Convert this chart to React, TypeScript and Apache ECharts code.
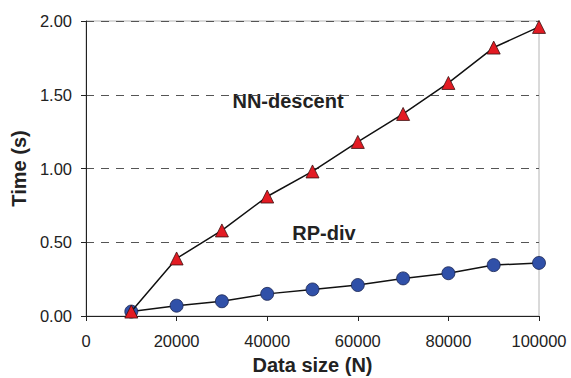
import React, { useEffect, useRef } from "react";
import * as echarts from "echarts";

const dataSizes = [10000, 20000, 30000, 40000, 50000, 60000, 70000, 80000, 90000, 100000];
const nnDescent = [0.03, 0.39, 0.58, 0.81, 0.98, 1.18, 1.37, 1.58, 1.82, 1.96];
const rpDiv = [0.03, 0.07, 0.1, 0.15, 0.18, 0.21, 0.255, 0.29, 0.345, 0.36];
const seriesLabels = ["NN-descent", "RP-div"];

const FONT = "'Liberation Sans', Arial, sans-serif";

export default function App() {
  const ref = useRef<HTMLDivElement>(null);
  useEffect(() => {
    if (!ref.current) return;
    const chart = echarts.init(ref.current, undefined, { renderer: "svg" });
    chart.setOption({
      animation: false,
      backgroundColor: "#ffffff",
      grid: {
        left: 86,
        right: 32,
        top: 21,
        bottom: 62,
        containLabel: false,
        outerBoundsMode: "none",
        show: true,
        borderColor: "#b4b4b4",
        borderWidth: 1,
        backgroundColor: "transparent",
      },
      xAxis: {
        type: "value",
        min: 0,
        max: 100000,
        interval: 20000,
        name: "Data size (N)",
        nameLocation: "middle",
        nameGap: 39,
        nameTextStyle: { fontFamily: FONT, fontWeight: "bold", fontSize: 20, color: "#222" },
        axisLine: { show: true, onZero: false, lineStyle: { color: "#222", width: 1 } },
        axisTick: { show: true, length: 5, inside: false, lineStyle: { color: "#222" } },
        axisLabel: {
          fontFamily: FONT,
          fontSize: 16.5,
          color: "#222",
          margin: 16,
          formatter: (v: number) => String(v),
        },
        splitLine: { show: false },
      },
      yAxis: {
        type: "value",
        min: 0,
        max: 2,
        interval: 0.5,
        name: "Time (s)",
        nameLocation: "middle",
        nameGap: 56,
        nameRotate: 90,
        nameTextStyle: { fontFamily: FONT, fontWeight: "bold", fontSize: 20, color: "#222" },
        axisLine: { show: true, lineStyle: { color: "#222", width: 1 } },
        axisTick: { show: true, length: 5, lineStyle: { color: "#222" } },
        axisLabel: {
          fontFamily: FONT,
          fontSize: 16.5,
          color: "#222",
          margin: 14,
          formatter: (v: number) => v.toFixed(2),
        },
        splitLine: {
          show: true,
          lineStyle: { color: "#555", type: [8, 7], width: 1 },
        },
      },
      series: [
        {
          name: seriesLabels[0],
          type: "line",
          data: dataSizes.map((x, i) => [x, nnDescent[i]]),
          symbol: "triangle",
          symbolSize: 13,
          lineStyle: { color: "#111", width: 1.5 },
          itemStyle: { color: "#e31b23", borderColor: "#3a1010", borderWidth: 0.8 },
          z: 3,
        },
        {
          name: seriesLabels[1],
          type: "line",
          data: dataSizes.map((x, i) => [x, rpDiv[i]]),
          symbol: "circle",
          symbolSize: 13,
          lineStyle: { color: "#111", width: 1.5 },
          itemStyle: { color: "#3050a8", borderColor: "#1a2550", borderWidth: 0.8 },
          z: 2,
        },
      ],
      graphic: [
        {
          type: "text",
          x: 288,
          y: 101,
          style: {
            text: seriesLabels[0],
            fontFamily: FONT,
            fontWeight: "bold",
            fontSize: 20,
            fill: "#222",
            align: "center",
            verticalAlign: "middle",
          },
        },
        {
          type: "text",
          x: 324,
          y: 233,
          style: {
            text: seriesLabels[1],
            fontFamily: FONT,
            fontWeight: "bold",
            fontSize: 20,
            fill: "#222",
            align: "center",
            verticalAlign: "middle",
          },
        },
      ],
    });
    return () => chart.dispose();
  }, []);
  return <div ref={ref} style={{ width: 571, height: 378, position: "absolute", left: 0, top: 0 }} />;
}
